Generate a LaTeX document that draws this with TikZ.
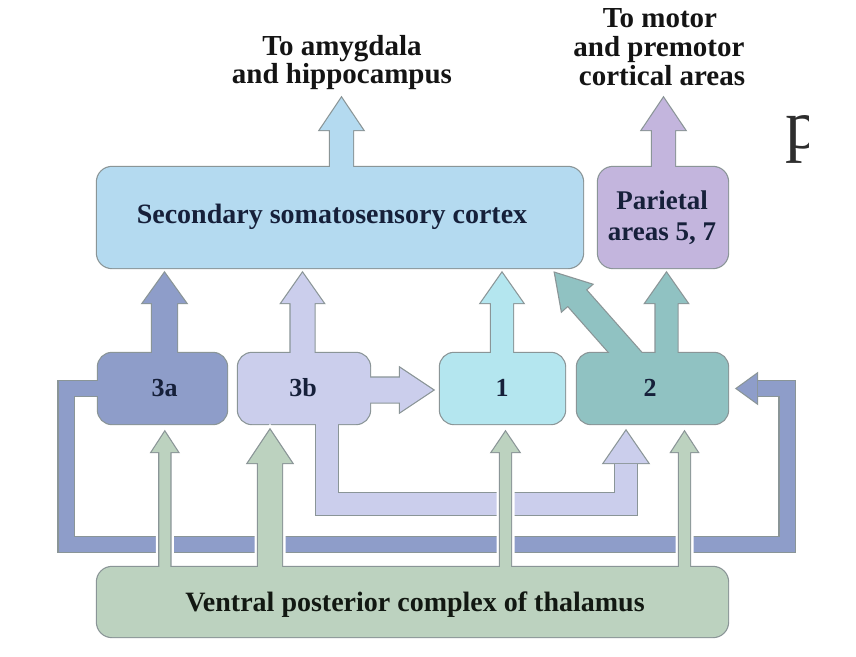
\documentclass[tikz,border=0pt]{standalone}
\usepackage{fontspec}
\setmainfont{Liberation Serif}
\definecolor{cSec}{HTML}{B4DAF0}
\definecolor{cPar}{HTML}{C3B5DD}
\definecolor{cA}{HTML}{8E9DC9}
\definecolor{cB}{HTML}{CBCEEC}
\definecolor{cOne}{HTML}{B4E6EF}
\definecolor{cTwo}{HTML}{90C2C2}
\definecolor{cThal}{HTML}{BCD2BF}
\definecolor{cBord}{HTML}{8A9597}
\definecolor{cTxt}{HTML}{16203A}
\definecolor{cThalTxt}{HTML}{121812}
\definecolor{cP}{HTML}{2E2E2E}
\tikzset{
  holder/.style={inner sep=0pt, outer sep=0pt, draw=none, fill=none},
  boxtxt/.style={font=\bfseries\fontsize{28}{30}\selectfont, text=cTxt, inner sep=0pt, anchor=base},
  partxt/.style={font=\bfseries\fontsize{27}{30}\selectfont, text=cTxt, inner sep=0pt, anchor=base},
  numtxt/.style={font=\bfseries\fontsize{26}{30}\selectfont, text=cTxt, inner sep=0pt, anchor=base},
  toplbl/.style={font=\bfseries\fontsize{29}{30}\selectfont, text=black!92, inner sep=0pt, anchor=base},
  bordpass/.style={draw=cBord, line width=2.4pt, line join=miter},
  halopass/.style={draw=white, line width=7pt, line join=miter},
}
% up block arrow: cx, ybottom, yheadbase, ytip, half shaft, half head
\newcommand\uparrowpath[6]{(#1-#5,#2) -- (#1-#5,#3) -- (#1-#6,#3) -- (#1,#4) -- (#1+#6,#3) -- (#1+#5,#3) -- (#1+#5,#2) -- cycle}
\newcommand\GroupSec[1]{%
  \path[#1, rounded corners=15pt] (sec.south west) rectangle (sec.north east);
  \path[#1] \uparrowpath{341.5}{175}{130}{98}{11.5}{21.5};}
\newcommand\GroupPar[1]{%
  \path[#1, rounded corners=15pt] (par.south west) rectangle (par.north east);
  \path[#1] \uparrowpath{663.5}{175}{130}{98}{11.5}{21.5};}
\newcommand\GroupA[2]{%
  \path[#1, rounded corners=14pt] (n3a.south west) rectangle (n3a.north east);
  \path[#1] \uparrowpath{164.5}{360}{303}{273}{12.5}{21.5};
  \path[#2, line join=miter] (105,388.5) -- (66,388.5) -- (66,544.5) -- (787,544.5) -- (787,388.5) -- (758,388.5);
  \path[#1] (757,374) -- (737,388.5) -- (757,403) -- cycle;}
\newcommand\GroupB[2]{%
  \path[#1, rounded corners=14pt] (n3b.south west) rectangle (n3b.north east);
  \path[#1] \uparrowpath{302.5}{360}{303}{273}{12}{21};
  \path[#1] (362,377.5) -- (400,377.5) -- (400,368) -- (433,390) -- (400,412) -- (400,402.5) -- (362,402.5) -- cycle;
  \path[#2, line join=miter] (327,415) -- (327,504) -- (626,504) -- (626,464);
  \path[#1] (604,463) -- (626,431) -- (648,463) -- cycle;}
\newcommand\GroupOne[1]{%
  \path[#1, rounded corners=14pt] (n1.south west) rectangle (n1.north east);
  \path[#1] \uparrowpath{502}{360}{303}{273}{11}{21};}
\newcommand\GroupTwo[1]{%
  \path[#1, rounded corners=14pt] (n2.south west) rectangle (n2.north east);
  \path[#1] \uparrowpath{666.5}{360}{303}{273}{11}{21};
  \path[#1] (620.3,365) -- (567.8,305.6) -- (561.8,310.9) -- (555,273) -- (591.8,284.5) -- (585.8,289.8) -- (652.3,365) -- cycle;}
\newcommand\GroupThal[1]{%
  \path[#1, rounded corners=15pt] (thal.south west) rectangle (thal.north east);
  \path[#1] \uparrowpath{164.8}{575}{452}{432}{5.5}{13};
  \path[#1] \uparrowpath{270}{575}{463}{430}{12}{22};
  \path[#1] \uparrowpath{505.5}{575}{452}{432}{5.5}{13.5};
  \path[#1] \uparrowpath{684.5}{575}{452}{432}{5.5}{13};}
\begin{document}
\begin{tikzpicture}[x=1pt, y=-1pt]
\useasboundingbox (0,0) rectangle (856,656);
\fill[white] (0,0) rectangle (856,656);
% placeholder nodes for the boxes
\node[holder, minimum width=486pt, minimum height=101pt] (sec) at (340,217.5) {};
\node[holder, minimum width=130pt, minimum height=101pt] (par) at (663,217.5) {};
\node[holder, minimum width=129pt, minimum height=71pt] (n3a) at (162.5,388.5) {};
\node[holder, minimum width=132pt, minimum height=71pt] (n3b) at (304,388.5) {};
\node[holder, minimum width=125pt, minimum height=71pt] (n1) at (502.5,388.5) {};
\node[holder, minimum width=151pt, minimum height=71pt] (n2) at (652.5,388.5) {};
\node[holder, minimum width=631pt, minimum height=70pt] (thal) at (412.5,602) {};
% groups: border pass then fill pass
\GroupSec{bordpass}\GroupSec{fill=cSec}
\GroupPar{bordpass}\GroupPar{fill=cPar}
\GroupA{bordpass}{draw=cBord, line width=17.4pt}
\GroupA{fill=cA}{draw=cA, line width=15pt}
\GroupB{bordpass}{draw=cBord, line width=24.4pt}
\GroupB{fill=cB}{draw=cB, line width=22pt}
\GroupOne{bordpass}\GroupOne{fill=cOne}
\GroupTwo{bordpass}\GroupTwo{fill=cTwo}
\GroupThal{halopass}\GroupThal{bordpass}\GroupThal{fill=cThal}
% texts
\node[toplbl] (amyg1) at (342,55) {To amygdala};
\node[toplbl] (amyg2) at (342,83) {and hippocampus};
\node[toplbl] (mot1) at (660,27) {To motor};
\node[toplbl] (mot2) at (659,56) {and premotor};
\node[toplbl] (mot3) at (662,85) {cortical areas};
\node[boxtxt] (secT) at (332,223) {Secondary somatosensory cortex};
\node[partxt] (parT1) at (662,209) {Parietal};
\node[partxt] (parT2) at (662,240) {areas 5, 7};
\node[numtxt] (t3a) at (164.5,396) {3a};
\node[numtxt] (t3b) at (303,396) {3b};
\node[numtxt] (t1) at (502,396) {1};
\node[numtxt] (t2) at (650,396) {2};
\node[boxtxt, text=cThalTxt] (thalT) at (415,611) {Ventral posterior complex of thalamus};
\begin{scope}
\clip (770,90) rectangle (808,180);
\node[font=\fontsize{70}{70}\selectfont, text=cP, inner sep=0pt, anchor=base west] (pT) at (785.5,148) {p};
\end{scope}
\end{tikzpicture}
\end{document}
